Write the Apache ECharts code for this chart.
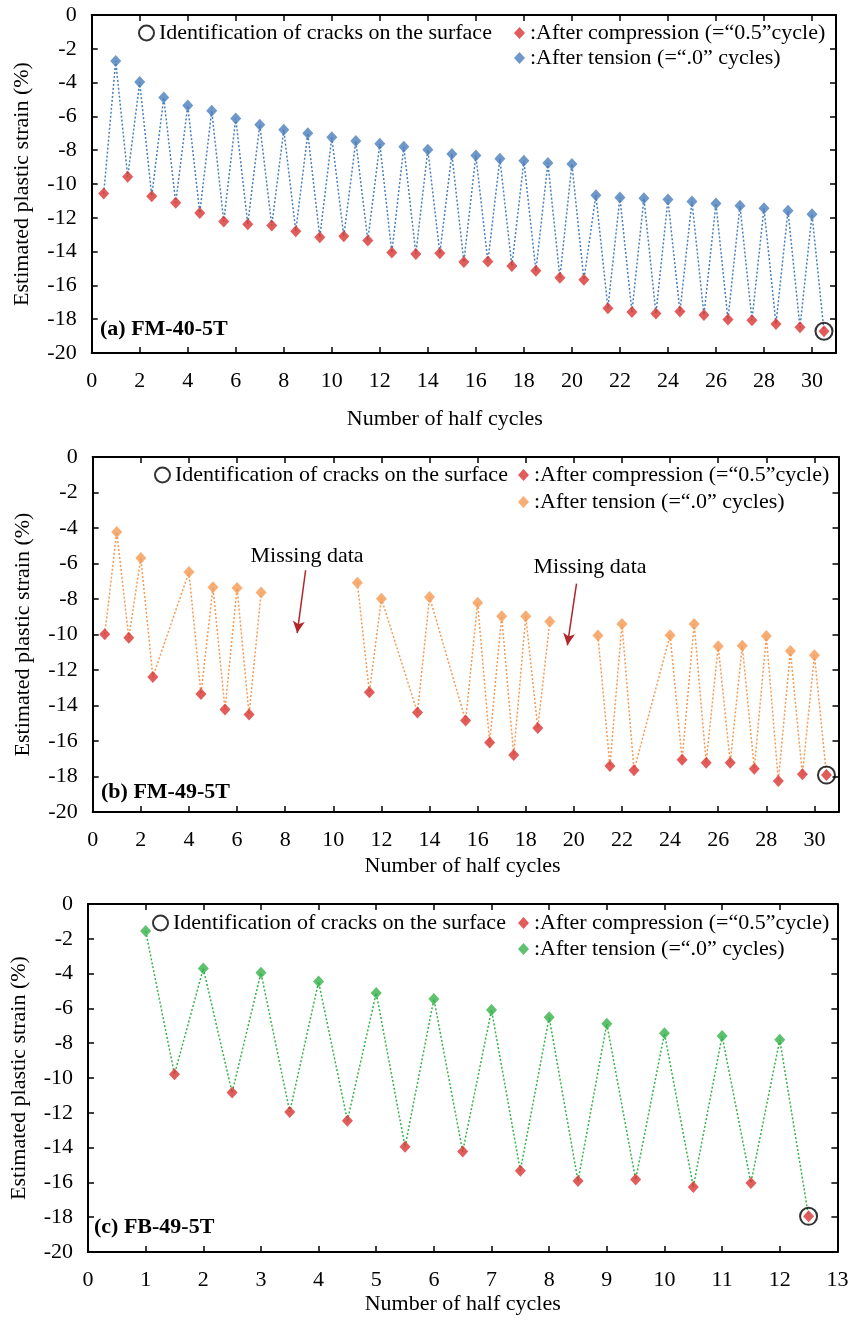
<!DOCTYPE html>
<html><head><meta charset="utf-8">
<script src="https://cdn.jsdelivr.net/npm/echarts@6/dist/echarts.min.js"></script>
<style>html,body{margin:0;padding:0;background:#fff}#c{width:857px;height:1328px}</style>
</head><body><div id="c"></div>
<script>
// ---------- data ----------
const aCompX = [0.5,1.5,2.5,3.5,4.5,5.5,6.5,7.5,8.5,9.5,10.5,11.5,12.5,13.5,14.5,15.5,16.5,17.5,18.5,19.5,20.5,21.5,22.5,23.5,24.5,25.5,26.5,27.5,28.5,29.5,30.5];
const aCompY = [-10.56,-9.57,-10.72,-11.11,-11.71,-12.22,-12.38,-12.46,-12.79,-13.15,-13.09,-13.35,-14.06,-14.14,-14.10,-14.61,-14.59,-14.85,-15.14,-15.54,-15.66,-17.35,-17.57,-17.67,-17.55,-17.75,-18.02,-18.06,-18.28,-18.48,-18.71];
const aTensX = [1,2,3,4,5,6,7,8,9,10,11,12,13,14,15,16,17,18,19,20,21,22,23,24,25,26,27,28,29,30];
const aTensY = [-2.72,-3.97,-4.88,-5.35,-5.67,-6.12,-6.49,-6.79,-6.99,-7.24,-7.46,-7.62,-7.80,-7.98,-8.23,-8.31,-8.51,-8.63,-8.75,-8.82,-10.66,-10.80,-10.85,-10.92,-11.03,-11.15,-11.29,-11.43,-11.59,-11.79];
const aCrackX = [30.5];
const aCrackY = [-18.71];

const bCompX = [0.5,1.5,2.5,4.5,5.5,6.5,11.5,13.5,15.5,16.5,17.5,18.5,21.5,22.5,24.5,25.5,26.5,27.5,28.5,29.5,30.5];
const bCompY = [-9.99,-10.18,-12.39,-13.35,-14.23,-14.51,-13.26,-14.40,-14.85,-16.09,-16.79,-15.27,-17.41,-17.65,-17.05,-17.22,-17.22,-17.56,-18.25,-17.88,-17.92];
const bTensX = [1,2,4,5,6,7,11,12,14,16,17,18,19,21,22,24,25,26,27,28,29,30];
const bTensY = [-4.23,-5.69,-6.48,-7.34,-7.38,-7.64,-7.08,-7.98,-7.89,-8.21,-8.97,-8.97,-9.27,-10.06,-9.41,-10.04,-9.41,-10.66,-10.63,-10.08,-10.93,-11.17];
const bCrackX = [30.5];
const bCrackY = [-17.92];
const bMissing = [[7, 11], [19, 21]];
const bNotes = [
  {text: 'Missing data', at: [8.91, -5.59], from: [8.85, -6.38], to: [8.50, -9.92]},
  {text: 'Missing data', at: [20.67, -6.23], from: [20.11, -7.13], to: [19.73, -10.61]}
];

const cCompX = [1.5,2.5,3.5,4.5,5.5,6.5,7.5,8.5,9.5,10.5,11.5,12.5];
const cCompY = [-9.79,-10.84,-11.95,-12.45,-13.95,-14.23,-15.33,-15.92,-15.84,-16.26,-16.03,-17.95];
const cTensX = [1,2,3,4,5,6,7,8,9,10,11,12];
const cTensY = [-1.55,-3.70,-3.95,-4.46,-5.11,-5.46,-6.09,-6.51,-6.88,-7.43,-7.59,-7.80];
const cCrackX = [12.5];
const cCrackY = [-17.95];

const yTicks = {min: -20, max: 0, interval: 2};
const labels = {
  crack: 'Identification of cracks on the surface',
  comp: ':After compression (=\u201c0.5\u201dcycle)',
  tens: ':After tension (=\u201c.0\u201d cycles)',
  xName: 'Number of half cycles',
  yName: 'Estimated plastic strain (%)'
};
const panelTitles = ['(a) FM-40-5T', '(b) FM-49-5T', '(c) FB-49-5T'];

// ---------- styling / layout ----------
const FONT = '"Liberation Serif", "Times New Roman", serif';
const RED = '#da3532';
const panels = [
  {key:'a', compX:aCompX, compY:aCompY, tensX:aTensX, tensY:aTensY, crackX:aCrackX, crackY:aCrackY, missing:[],
   color:'#4a7ebb', xmax:31, xint:2, grid:{left:91.7, top:15, width:744.3, height:338}, xNameGap:55, xNameShift:38,
   leg:{crack:[138,33], comp:[514,33], tens:[514,58]}, title:[100,318]},
  {key:'b', compX:bCompX, compY:bCompY, tensX:bTensX, tensY:bTensY, crackX:bCrackX, crackY:bCrackY, missing:bMissing,
   color:'#f59a52', xmax:31, xint:2, grid:{left:92.7, top:457, width:745.8, height:355}, xNameGap:43, xNameShift:6,
   leg:{crack:[154,475], comp:[518,475], tens:[518,502]}, title:[101,781], notes:bNotes},
  {key:'c', compX:cCompX, compY:cCompY, tensX:cTensX, tensY:cTensY, crackX:cCrackX, crackY:cCrackY, missing:[],
   color:'#35b24a', xmax:13, xint:1, grid:{left:86, top:904, width:751.4, height:348}, xNameGap:41, xNameShift:0,
   leg:{crack:[152,923], comp:[518,923], tens:[518,949]}, title:[94,1216]}
];

const zip = (xs, ys) => xs.map((x, i) => [x, ys[i]]);

function segments(p) {
  const pts = zip(p.compX, p.compY).concat(zip(p.tensX, p.tensY)).sort((u, v) => u[0] - v[0]);
  const segs = [[]];
  pts.forEach((pt, i) => {
    if (i > 0) {
      const prev = pts[i - 1][0];
      const gap = p.missing.some(r => prev <= r[0] && pt[0] >= r[1]);
      if (gap) segs.push([]);
    }
    segs[segs.length - 1].push(pt);
  });
  return segs;
}

const option = {
  animation: false,
  backgroundColor: '#fff',
  grid: [], xAxis: [], yAxis: [], series: [], legend: [], title: []
};

const axisLine = {show: true, onZero: false, lineStyle: {color: '#000', width: 2}};
const axisTick = {show: true, inside: true, length: 6, lineStyle: {color: '#000', width: 1.5}};

panels.forEach((p, i) => {
  option.grid.push(Object.assign({containLabel: false}, p.grid));
  const xi = option.xAxis.length, yi = option.yAxis.length;
  option.xAxis.push({
    type: 'value', gridIndex: i, position: 'bottom', min: 0, max: p.xmax, interval: p.xint,
    axisLine, axisTick, splitLine: {show: false},
    axisLabel: {margin: 17, color: '#000', fontSize: 22, fontFamily: FONT, showMaxLabel: p.xmax % p.xint === 0},
    name: labels.xName, nameLocation: 'middle', nameGap: p.xNameGap,
    nameTextStyle: {color: '#000', fontSize: 22, fontFamily: FONT, padding: [0, p.xNameShift, 0, 0]}
  });
  option.xAxis.push({
    type: 'value', gridIndex: i, position: 'top', min: 0, max: p.xmax, interval: p.xint,
    axisLine, axisTick, splitLine: {show: false}, axisLabel: {show: false}
  });
  option.yAxis.push({
    type: 'value', gridIndex: i, position: 'left', min: yTicks.min, max: yTicks.max, interval: yTicks.interval,
    axisLine, axisTick, splitLine: {show: false},
    axisLabel: {margin: 15, color: '#000', fontSize: 22, fontFamily: FONT},
    name: labels.yName, nameLocation: 'middle', nameGap: 58,
    nameTextStyle: {color: '#000', fontSize: 22, fontFamily: FONT}
  });
  option.yAxis.push({
    type: 'value', gridIndex: i, position: 'right', min: yTicks.min, max: yTicks.max, interval: yTicks.interval,
    axisLine, axisTick, splitLine: {show: false}, axisLabel: {show: false}
  });

  segments(p).forEach(seg => {
    option.series.push({
      type: 'line', xAxisIndex: xi, yAxisIndex: yi, data: seg, symbol: 'none', silent: true, z: 1,
      lineStyle: {color: p.color, width: 1.5, type: [2, 2]}
    });
  });

  const compName = p.key + '_comp', tensName = p.key + '_tens', crackName = p.key + '_crack';
  option.series.push({
    name: compName, type: 'scatter', xAxisIndex: xi, yAxisIndex: yi, data: zip(p.compX, p.compY),
    symbol: 'diamond', symbolSize: [11, 12], itemStyle: {color: RED}, z: 3
  });
  const tens = {
    name: tensName, type: 'scatter', xAxisIndex: xi, yAxisIndex: yi, data: zip(p.tensX, p.tensY),
    symbol: 'diamond', symbolSize: [11, 12], itemStyle: {color: p.color}, z: 3
  };
  if (p.notes) {
    tens.markLine = {
      silent: true, symbol: ['none', 'arrow'], symbolSize: [9, 12], animation: false,
      label: {show: false},
      lineStyle: {color: '#b2262a', width: 1.5, type: 'solid'},
      data: p.notes.map(n => [{coord: n.from}, {coord: n.to}])
    };
    tens.markPoint = {
      silent: true, symbol: 'rect', symbolSize: 1, itemStyle: {color: 'rgba(0,0,0,0)'},
      label: {show: true, position: 'inside', formatter: '{b}', color: '#000', fontSize: 22, fontFamily: FONT},
      data: p.notes.map(n => ({name: n.text, coord: n.at}))
    };
  }
  option.series.push(tens);
  option.series.push({
    name: crackName, type: 'scatter', xAxisIndex: xi, yAxisIndex: yi, data: zip(p.crackX, p.crackY),
    symbol: 'circle', symbolSize: 17,
    itemStyle: {color: 'rgba(0,0,0,0)', borderColor: '#000', borderWidth: 2}, z: 4
  });

  const legText = {color: '#000', fontSize: 22, fontFamily: FONT, lineHeight: 24};
  const fmt = name => labels[name.split('_')[1]];
  option.legend.push({
    left: p.leg.crack[0], top: p.leg.crack[1] - 12, padding: 0, selectedMode: false,
    itemWidth: 15, itemHeight: 15, formatter: fmt, textStyle: legText,
    data: [{name: crackName, icon: 'circle', itemStyle: {color: 'rgba(0,0,0,0)', borderColor: '#000', borderWidth: 2}}]
  });
  option.legend.push({
    left: p.leg.comp[0], top: p.leg.comp[1] - 12, padding: 0, selectedMode: false,
    itemWidth: 11, itemHeight: 12, formatter: fmt, textStyle: legText,
    data: [{name: compName, icon: 'diamond'}]
  });
  option.legend.push({
    left: p.leg.tens[0], top: p.leg.tens[1] - 12, padding: 0, selectedMode: false,
    itemWidth: 11, itemHeight: 12, formatter: fmt, textStyle: legText,
    data: [{name: tensName, icon: 'diamond'}]
  });

  option.title.push({
    text: panelTitles[i], left: p.title[0], top: p.title[1], padding: 0,
    textStyle: {color: '#000', fontSize: 22, fontWeight: 'bold', fontFamily: FONT}
  });
});

const chart = echarts.init(document.getElementById('c'), null, {renderer: 'canvas'});
chart.setOption(option);
</script>
</body></html>
